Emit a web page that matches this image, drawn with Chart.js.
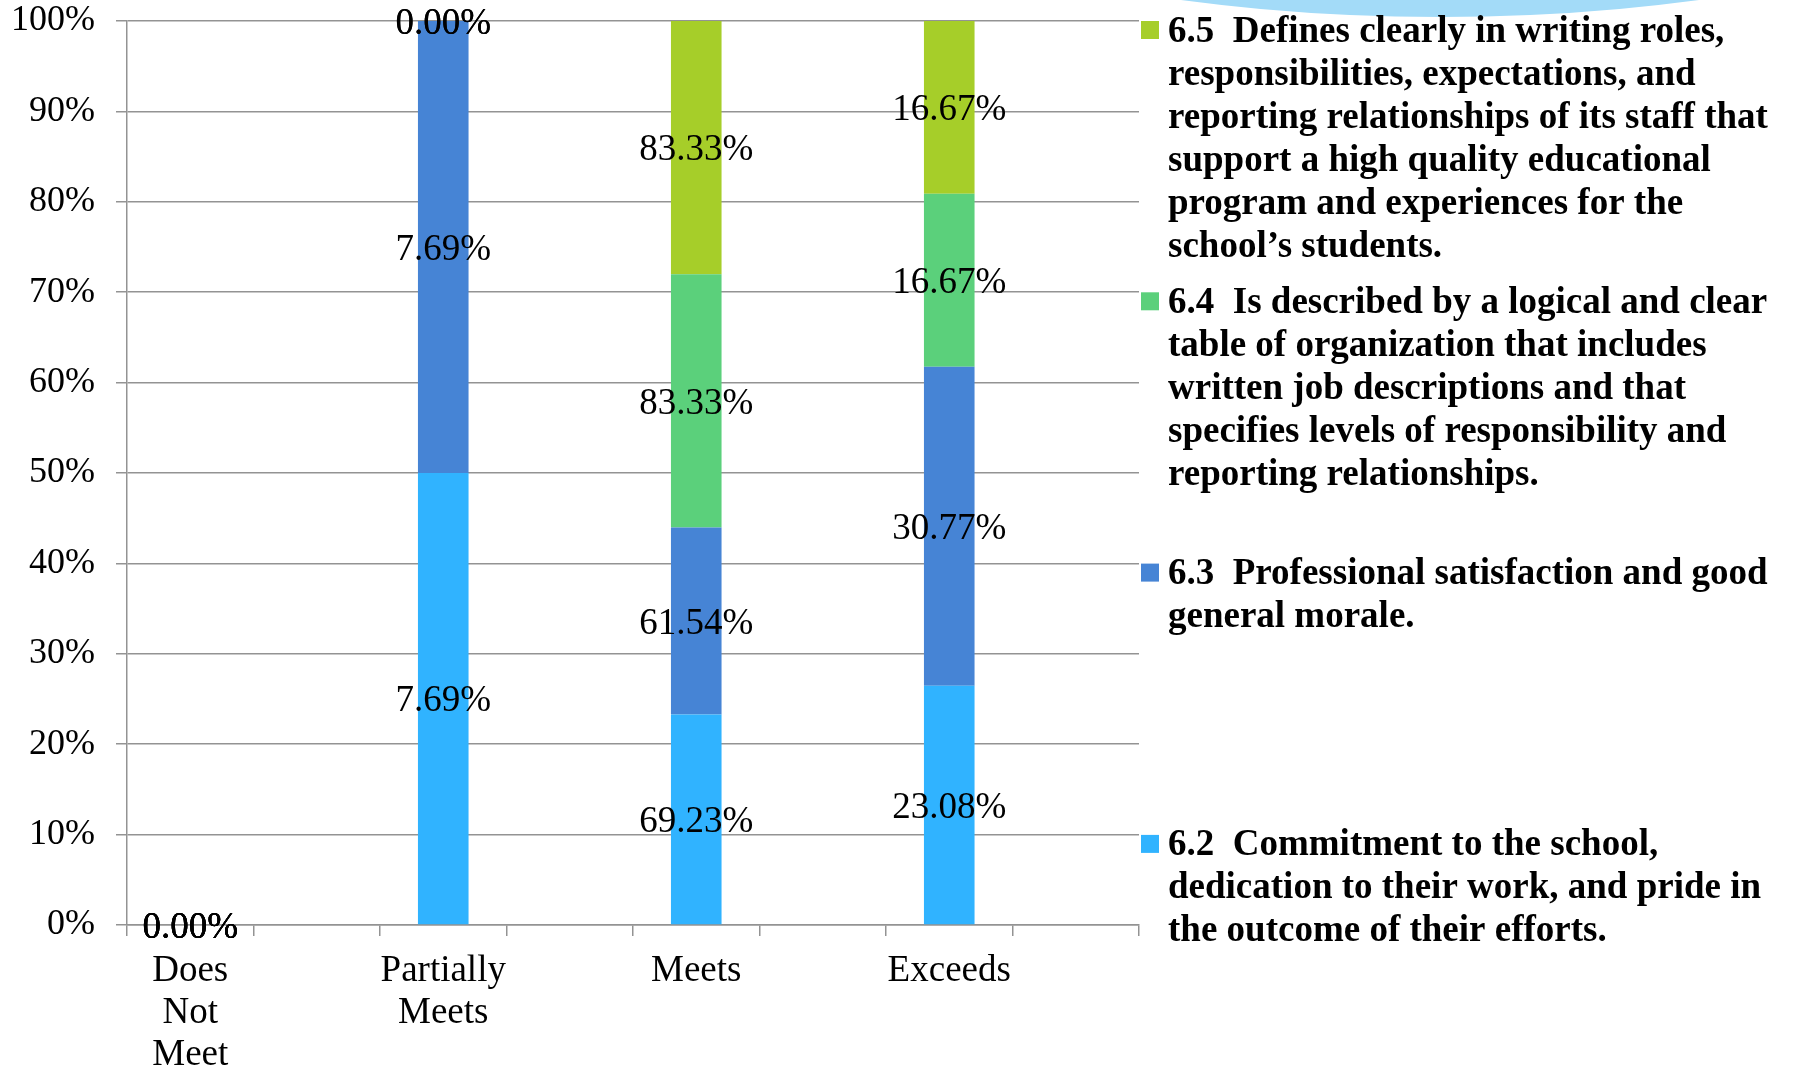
<!DOCTYPE html>
<html>
<head>
<meta charset="utf-8">
<script src="https://cdn.jsdelivr.net/npm/chart.js@4.4.1/dist/chart.umd.min.js"></script>
<style>
    body { margin: 0; background: #fff; }
    #wrap { width: 1795px; height: 1069px; position: relative; }
</style>
</head>
<body>
<div id="wrap"><canvas id="ratingChart" width="1795" height="1069"></canvas></div>
<script>
// Categories (every second slot is an empty spacer, like in the original sheet)
var categories = [["Does", "Not", "Meet"], "", ["Partially", "Meets"], "", "Meets", "", "Exceeds", ""];

// Raw percentages printed on the bars
var s62 = [0, null, 7.69, null, 69.23, null, 23.08, null];
var s63 = [0, null, 7.69, null, 61.54, null, 30.77, null];
var s64 = [0, null, 0, null, 83.33, null, 16.67, null];
var s65 = [0, null, 0, null, 83.33, null, 16.67, null];

var seriesColors = ["#30b3ff", "#4684d5", "#5bd07b", "#a6ce29"];

// Legend text, line by line (bottom series first)
var legendText = [
    ["6.2  Commitment to the school,", "dedication to their work, and pride in", "the outcome of their efforts."],
    ["6.3  Professional satisfaction and good", "general morale."],
    ["6.4  Is described by a logical and clear", "table of organization that includes", "written job descriptions and that", "specifies levels of responsibility and", "reporting relationships."],
    ["6.5  Defines clearly in writing roles,", "responsibilities, expectations, and", "reporting relationships of its staff that", "support a high quality educational", "program and experiences for the", "school\u2019s students."]
];

var yTicks = [0, 10, 20, 30, 40, 50, 60, 70, 80, 90, 100];

var rawSeries = [s62, s63, s64, s65];

// 100% stacked: each segment is its share of the category total
function shareOf(series) {
    return series.map(function (v, j) {
        if (v === null) return null;
        var total = 0;
        rawSeries.forEach(function (s) { total += s[j] || 0; });
        return total ? v / total * 100 : 0;
    });
}

var gridColor = "#939393";
var serif = "'Liberation Serif', 'Times New Roman', serif";

// Values printed in the middle of every segment
var valueLabels = {
    id: "valueLabels",
    afterDatasetsDraw: function (chart) {
        var ctx = chart.ctx;
        ctx.save();
        ctx.font = "37px " + serif;
        ctx.fillStyle = "#000";
        ctx.textAlign = "center";
        ctx.textBaseline = "middle";
        chart.data.datasets.forEach(function (ds, i) {
            var meta = chart.getDatasetMeta(i);
            meta.data.forEach(function (bar, j) {
                var raw = rawSeries[i][j];
                if (raw === null) return;
                ctx.fillText(raw.toFixed(2) + "%", bar.x, (bar.y + bar.base) / 2 + 3);
            });
        });
        ctx.restore();
    }
};

// Slide decoration at the top and the wrapped legend on the right
var sideLegend = {
    id: "sideLegend",
    beforeDraw: function (chart) {
        var ctx = chart.ctx;
        ctx.save();
        ctx.fillStyle = "#a3dbf8";
        ctx.beginPath();
        ctx.ellipse(1440, -403, 920, 420, 0, 0, Math.PI * 2);
        ctx.fill();
        ctx.restore();
    },
    afterDraw: function (chart) {
        var ctx = chart.ctx;
        var top = 30, step = 271.3, lineH = 43;
        ctx.save();
        ctx.textBaseline = "middle";
        ctx.textAlign = "left";
        for (var k = 0; k < 4; k++) {
            var i = 3 - k;
            var y0 = top + k * step;
            ctx.fillStyle = seriesColors[i];
            ctx.fillRect(1141, y0 - 9, 18, 18);
            ctx.fillStyle = "#000";
            ctx.font = "bold 37px " + serif;
            legendText[i].forEach(function (line, n) {
                ctx.fillText(line, 1168, y0 + n * lineH + 2);
            });
        }
        ctx.restore();
    }
};

var ctx = document.getElementById("ratingChart").getContext("2d");
var ratingChart = new Chart(ctx, {
    type: "bar",
    data: {
        labels: categories,
        datasets: rawSeries.map(function (s, i) {
            return {
                label: legendText[i].join(" "),
                data: shareOf(s),
                backgroundColor: seriesColors[i],
                borderWidth: 0,
                categoryPercentage: 1,
                barPercentage: 0.4
            };
        })
    },
    plugins: [valueLabels, sideLegend],
    options: {
        responsive: false,
        animation: false,
        devicePixelRatio: 1,
        layout: { padding: { top: 21, right: 656, left: 0, bottom: 0 } },
        plugins: {
            legend: { display: false },
            tooltip: { enabled: false }
        },
        scales: {
            x: {
                stacked: true,
                grid: { drawOnChartArea: false, drawTicks: true, tickLength: 11, color: gridColor, lineWidth: 1.5 },
                border: { display: true, color: gridColor, width: 1.5 },
                ticks: {
                    autoSkip: false,
                    maxRotation: 0,
                    color: "#000",
                    padding: 14,
                    font: { family: serif, size: 37, lineHeight: 1.135 }
                },
                afterFit: function (scale) {
                    scale.height = 1069 - 925;
                    scale.paddingLeft = 0;
                    scale.paddingRight = 0;
                }
            },
            y: {
                stacked: true,
                min: 0,
                max: 100,
                afterBuildTicks: function (scale) {
                    scale.ticks = yTicks.map(function (v) { return { value: v }; });
                },
                grid: { color: gridColor, lineWidth: 1.5, tickLength: 11 },
                border: { display: true, color: gridColor, width: 1.5 },
                ticks: {
                    color: "#000",
                    padding: 21,
                    font: { family: serif, size: 36 },
                    callback: function (v) { return v + "%"; }
                },
                afterFit: function (scale) {
                    scale.width = 127;
                    scale.paddingTop = 0;
                    scale.paddingBottom = 0;
                }
            }
        }
    }
});
</script>
</body>
</html>
